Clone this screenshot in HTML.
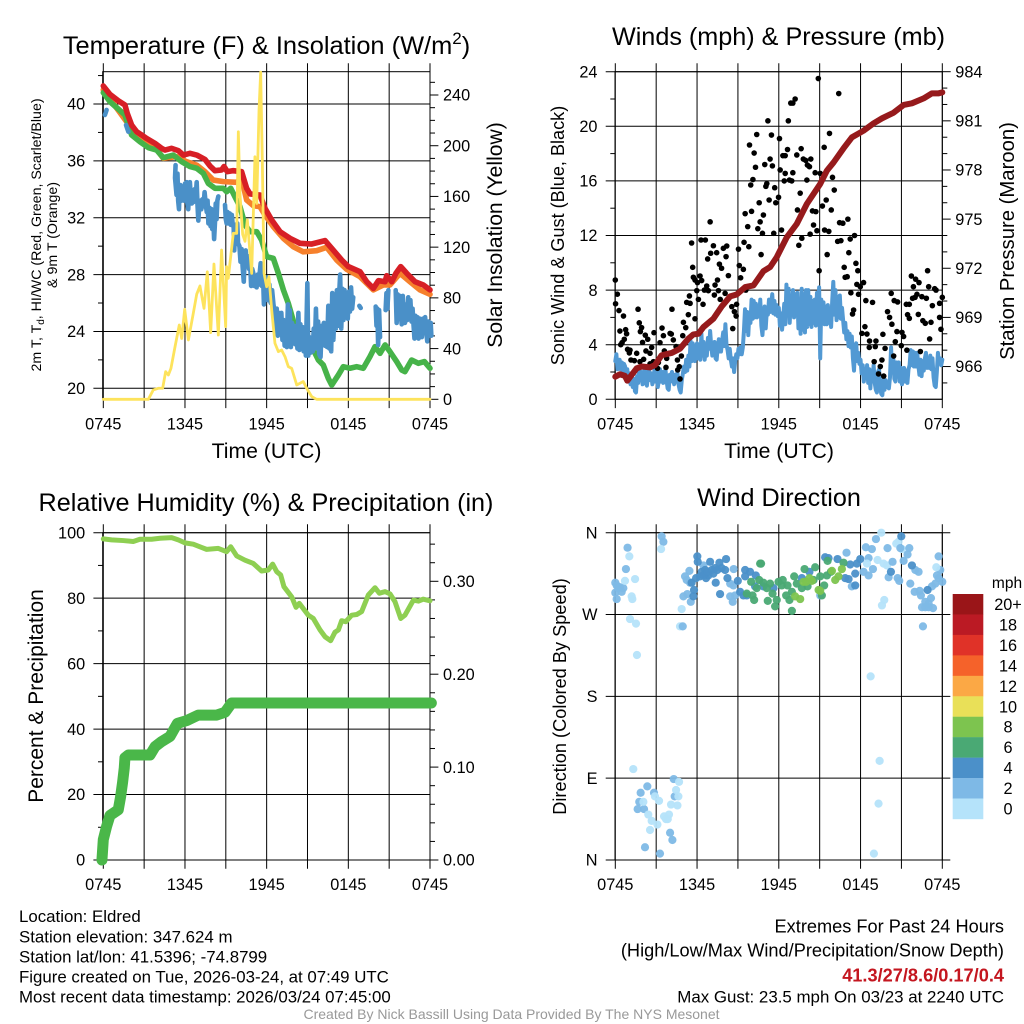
<!DOCTYPE html>
<html lang="en">
<head>
<meta charset="utf-8">
<title>Eldred Mesonet Meteogram</title>
<style>
html,body{margin:0;padding:0;background:#fff;width:1024px;height:1024px;overflow:hidden}
svg{display:block;font-family:"Liberation Sans",sans-serif;fill:#000}
</style>
</head>
<body>
<svg id="chart" xmlns="http://www.w3.org/2000/svg" width="1024" height="1024" viewBox="0 0 1024 1024">
  <rect x="0" y="0" width="1024" height="1024" fill="#fff"/>
  <g id="layer"></g>
  <text x="266.5" y="54" font-size="25.4" text-anchor="middle">Temperature (F) &amp; Insolation (W/m<tspan dy="-10" font-size="17">2</tspan><tspan dy="10">)</tspan></text>
  <text x="778.5" y="45" font-size="25.2" text-anchor="middle">Winds (mph) &amp; Pressure (mb)</text>
  <text x="266" y="511" font-size="25.2" text-anchor="middle">Relative Humidity (%) &amp; Precipitation (in)</text>
  <text x="779" y="506" font-size="25.2" text-anchor="middle">Wind Direction</text>
  <text x="266.5" y="458" font-size="21.2" text-anchor="middle">Time (UTC)</text>
  <text x="779" y="458" font-size="21.2" text-anchor="middle">Time (UTC)</text>
  <text transform="translate(41,235) rotate(-90)" font-size="14.2" text-anchor="middle">2m T, T<tspan dy="3" font-size="10">d</tspan><tspan dy="-3">, HI/WC (Red, Green, Scarlet/Blue)</tspan></text>
  <text transform="translate(57,235) rotate(-90)" font-size="14.2" text-anchor="middle">&amp; 9m T (Orange)</text>
  <text transform="translate(502,235) rotate(-90)" font-size="21.1" text-anchor="middle">Solar Insolation (Yellow)</text>
  <text transform="translate(564,235.5) rotate(-90)" font-size="18.1" text-anchor="middle">Sonic Wind &amp; Gust (Blue, Black)</text>
  <text transform="translate(1014,241) rotate(-90)" font-size="20.3" text-anchor="middle">Station Pressure (Maroon)</text>
  <text transform="translate(43,696) rotate(-90)" font-size="21" text-anchor="middle">Percent &amp; Precipitation</text>
  <text transform="translate(566,696.5) rotate(-90)" font-size="18.2" text-anchor="middle">Direction (Colored By Speed)</text>
  <text x="1007" y="588" font-size="15.5" text-anchor="middle">mph</text>
  <g font-size="16.85">
    <text x="19" y="922">Location: Eldred</text>
    <text x="19" y="942.5">Station elevation: 347.624 m</text>
    <text x="19" y="962.3">Station lat/lon: 41.5396; -74.8799</text>
    <text x="19" y="982.3">Figure created on Tue, 2026-03-24, at 07:49 UTC</text>
    <text x="19" y="1002.3">Most recent data timestamp: 2026/03/24 07:45:00</text>
  </g>
  <g text-anchor="end">
    <text x="1004" y="932.7" font-size="18.2">Extremes For Past 24 Hours</text>
    <text x="1004" y="956.7" font-size="18.2">(High/Low/Max Wind/Precipitation/Snow Depth)</text>
    <text x="1004" y="981.7" font-size="18.2" font-weight="bold" fill="#c4161f">41.3/27/8.6/0.17/0.4</text>
    <text x="1004" y="1002.3" font-size="16.9">Max Gust: 23.5 mph On 03/23 at 2240 UTC</text>
  </g>
  <text x="511.5" y="1019" font-size="14" text-anchor="middle" fill="#999">Created By Nick Bassill Using Data Provided By The NYS Mesonet</text>
</svg>
<script>
/* ---- chart data (hours since 0745 UTC) ---- */
const timeTickLabels = ['0745', '1345', '1945', '0145', '0745'];
const tempTicks = [20, 24, 28, 32, 36, 40];
const solarTicks = [0, 40, 80, 120, 160, 200, 240];
const windTicks = [0, 4, 8, 12, 16, 20, 24];
const pressureTicks = [966, 969, 972, 975, 978, 981, 984];
const rhTicks = [0, 20, 40, 60, 80, 100];
const precipTicks = ['0.00', '0.10', '0.20', '0.30'];
const dirTickLabels = ['N', 'E', 'S', 'W', 'N'];

const redHours = [0,.49,1.1,1.59,1.76,2.08,2.45,2.82,3.18,3.8,4.29,4.53,5.02,5.51,5.88,6.37,6.86,7.47,7.84,8.2,8.69,8.87,9.11,9.55,10.16,10.53,10.78,11.51,11.88,12.37,12.98,13.72,14.45,15.31,16.29,16.78,17.51,18,18.86,19.35,19.84,20.21,20.7,20.82,21.19,21.5,21.85,22.29,22.9,23.51,24];
const redTemp = [41.27,40.68,40.23,39.93,39.34,38.52,38.05,37.82,37.58,37.23,36.88,36.76,36.88,36.72,36.41,36.53,36.41,36.1,35.64,35.31,35.36,35.6,35.24,35.31,35.24,34.07,33.67,33.6,32.66,31.84,31.02,30.55,30.2,30.15,30.39,29.85,29.03,28.56,28.2,27.5,27.03,27.57,27.5,27.92,27.5,28.09,28.56,28.09,27.5,27.27,26.92];

const orangeHours = [0,2.69,3.92,4.41,5.39,6.12,6.86,7.47,8.08,8.82,9.8,10.16,10.53,11.02,11.51,11.88,12.49,13.23,13.96,14.69,15.67,16.41,17.14,17.88,18.86,19.84,20.57,21.06,21.8,22.53,23.27,24];
const orangeTemp = [41,37.47,36.81,36.18,36.3,35.94,35.7,35.24,34.65,34.54,34.49,34.77,33.25,32.85,32.78,32.19,31.37,30.55,29.96,29.6,29.68,29.92,29.03,28.37,27.85,26.92,27.27,27.27,28.09,27.5,26.92,26.61];

const greenHours = [0,.49,1.1,1.59,2.08,2.69,3.31,3.92,4.41,5.14,5.76,6.37,6.86,7.35,7.71,8.2,8.82,9.06,9.36,9.67,10.04,10.41,10.78,11.27,11.63,12,12.49,12.86,13.23,13.59,14.01,14.69,15.38,15.8,16.16,16.53,16.78,17.27,17.63,18.12,18.61,19.1,19.59,19.96,20.33,20.7,21.06,21.55,21.92,22.16,22.65,23.14,23.59,24];
const greenTemp = [40.8,40.16,39.65,39.23,37.82,37.35,36.93,36.76,36.22,36.41,35.94,35.6,35.48,35.12,34.42,34.07,34.07,33.83,34.07,33.48,32.78,31.49,31.02,31.02,30.43,29.26,29.14,28.09,26.92,25.98,24.57,23.52,22.81,21.99,21.64,20.7,20.23,20.94,21.52,21.41,21.52,21.41,22.23,22.93,22.46,23.05,22.58,21.88,21.29,21.17,21.99,21.76,21.88,21.41];

const dewHours = [.12,.24,null,1.67,1.84,null,
5.31,5.27,5.38,5.45,5.5,5.56,5.6,5.66,5.72,5.8,5.86,5.93,6,6.06,6.12,6.18,6.24,6.3,6.36,6.42,6.5,6.56,6.62,6.7,6.78,6.86,6.92,6.98,7.04,7.12,7.2,7.28,7.36,7.44,7.52,7.6,7.66,7.72,7.8,7.88,7.94,8,8.06,8.14,8.2,8.26,8.32,8.38,8.45,null,
8.94,9,9.06,9.12,9.2,9.28,9.36,9.44,9.5,9.58,9.62,9.7,9.78,9.84,9.9,10,10.08,10.16,10.24,10.32,10.38,10.46,10.54,10.62,10.7,10.78,10.86,10.94,11.02,11.1,11.18,11.26,11.34,11.42,11.5,11.56,11.64,11.72,11.8,11.88,11.96,12.02,12.1,12.2,12.3,12.4,12.5,12.58,12.66,12.74,12.82,12.9,13,13.08,13.16,13.24,13.32,13.4,13.48,13.56,13.62,13.7,13.78,13.86,13.94,14.02,14.1,14.18,14.26,14.33,14.4,14.48,14.56,14.64,14.72,14.8,14.88,14.99,15.06,15.14,15.22,15.3,15.38,15.46,15.54,15.62,15.7,15.78,15.86,15.96,16.04,16.12,16.2,16.28,16.36,16.44,16.53,16.6,16.68,16.74,16.82,16.9,17,17.08,17.16,17.24,17.32,17.4,17.48,17.56,17.64,17.72,17.8,17.88,17.96,18.04,18.12,18.2,18.28,18.36,null,
18.81,18.91,null,
20.01,20.07,20.13,20.19,20.26,20.33,null,
20.74,20.8,20.87,20.94,null,
21.48,21.55,21.62,21.7,21.78,21.86,21.92,22,22.08,22.16,22.24,22.32,22.4,22.48,22.56,22.64,22.72,22.78,22.86,22.92,23,23.08,23.16,23.24,23.32,23.4,23.48,23.56,23.64,23.72,23.8,23.88,23.96,24.05,24.1];
const dewTemp = [39.23,39.58,null,38.52,38.05,null,
35.7,34.8,33.6,35.1,33.2,32.6,34,34.3,33.2,34.2,33.3,33.2,34.4,33.4,34.5,33,32.6,33.9,34.5,33.6,33,33.9,33.1,34,33.3,34.5,32.9,31.8,32.7,33.2,32.6,33.3,32.8,33.8,33,32.4,33.2,31.6,32.7,31.4,32.6,31.2,32.5,30.5,31.6,33,31.9,33.2,33.5,null,
32.9,31.9,31.6,32.4,31.6,32.3,31.5,32.2,31.6,31.3,29.7,31.5,30.3,31.6,30.2,30,28.9,29.8,28.5,27.5,29.1,29.7,28.6,29.3,28.4,29,27.2,28.4,28.1,27.2,27.9,27.1,28,27.3,28.2,28.8,27.2,28.4,25.9,27.4,26.4,27.8,26.2,27.3,26,26.9,25.9,25.4,24,25.6,23.7,25.3,24.1,25.3,23.4,24.8,23,24.4,22.9,25.9,23.2,25.5,22.9,24.6,23.3,24.4,23.1,24.3,22.8,25.3,22.7,24.5,22.9,24.3,22.6,23.9,22.3,27.4,22.3,23.6,22.5,23.5,22.6,24.2,22.8,25.6,22.9,24.7,22.4,22.2,24.4,23.2,24.6,23,24.2,22.9,25.8,22.8,25,22.6,26.7,23.4,25.9,24.2,26.9,24.4,26.5,28,24.2,27,24.8,26.9,25,26.4,24.9,26.8,25.4,27.1,25.6,26.4,null,
25.8,25.65,null,
25.75,24.4,25.6,23.05,25.5,23.6,null,
25.5,26.7,25.6,26.9,null,
26.9,24.6,26.6,24.9,26.5,25.1,24.5,26.5,25,24.6,25.9,24.8,26.4,25,26.2,24.7,25.6,24.6,23.5,25.1,24.5,25,23.5,24.9,24,23.6,24.9,23.9,25,24,23.3,24.7,23.7,24.6,23.7];

const solarHours = [0,3.31,3.67,4.04,4.36,4.58,4.78,4.97,5.27,5.58,5.76,5.98,6.25,6.61,6.86,7.1,7.4,7.64,7.89,8.13,8.45,8.69,8.99,9.06,9.18,9.55,9.8,9.92,10.04,10.24,10.41,10.58,10.9,11.14,11.27,11.44,11.56,11.68,11.81,12,12.17,12.37,12.61,12.86,13.1,13.35,13.59,13.84,14.21,14.69,14.94,15.31,15.67,24];
const solarValues = [0,0,7.4,8.7,8.7,21.8,19.2,24.4,41.5,58.6,48,71,46.8,67.8,82.8,89.4,71.7,100.6,52.6,106.7,50.7,117.7,57.3,104.6,95.4,130.9,130.9,211,162,130,124.6,141.6,99.3,191.3,154.5,228,258,188.7,99.3,88.8,96.7,70.4,44.2,37.6,38.9,33.6,25.8,24.4,11.3,14,8.7,2.1,0,0];

/* sonic wind: regular samples across the 24 h window */
const windSpeed = [2.8,3.3,2.2,2.5,2.9,2.2,2.7,2,2.6,2.4,1.6,2.2,1.3,1.9,1.1,1.8,.9,1.5,.6,.5,1.7,1.2,2.2,1.4,2,1.1,1.9,2.2,1.2,1,1.8,2.2,1.4,1.9,1.1,1.5,2.2,1.3,2.1,.9,1.4,2.2,1.3,2,1.2,1.8,2.2,1.4,.8,.7,1.8,1.3,2,1.5,1.1,1.8,1.3,2,1.1,.7,.5,1.4,1.9,2.4,2,2.9,2.1,3.2,2.4,4.3,2.8,4.1,3,2.8,3.9,4.1,3,3.9,2.9,4.8,3.2,4.2,2.9,3.8,3.2,4.5,3.7,5,3.9,3.2,3.5,4.2,3,2.9,3.9,4.4,3.5,3.5,4.3,4.9,3.9,5.5,4,3.6,3,3.7,2.9,2.4,3,2,2.8,3.3,3,3.7,3.3,3.8,3.3,3.8,5,6.6,5,6.4,4.7,6.3,5.6,7.3,5.9,7.2,6,7,6,6.6,6.1,7.3,5.4,4.7,5.9,6.8,5.2,6.5,6.2,7.3,6.4,7,7.7,6.3,7.2,6.2,6.9,6.1,6.7,5.4,6.3,5.1,6,7,5.5,8.4,6.4,8.1,5.6,7.2,6.2,8,6,7.7,6.4,7.8,5.2,6.8,4.8,8.1,5.1,7.7,4.9,8,5.3,8,5.5,7.5,5.3,7.2,5.6,7.3,5.4,7.8,5.9,8.2,3,7.3,5.6,7.1,5.5,6.8,5.5,6.9,5.6,6.6,5.3,7.2,8.6,6.2,8,5.8,7.5,6,7.6,5.9,6.7,5.8,4.9,5.6,4.4,5,3.9,4.8,3.8,4.6,3,2.1,3.8,4.1,2.8,3.4,2.6,2.9,1.9,2.5,1.3,2.2,1.6,2.5,1.2,2.2,.8,2.1,1.4,2.5,1.2,.7,.5,2,2.2,.9,.4,.3,1.4,.7,1.4,.9,1.2,.8,1.6,3.8,2,3.1,1.5,1.3,2.7,1.8,2.7,1.3,2.3,1.1,2,2.3,1.3,2.1,1.2,2.2,2.5,3.6,2.5,3.5,2.4,3.4,2.4,3.4,2.5,1.8,2.9,1.7,2.8,2.1,3,3.4,2.3,3,2.3,3.2,2.2,3,1.6,1,.9,2,3.4,2.6,3,2.5,2.9];
const windHours = windSpeed.map((v, i) => i * 24 / (windSpeed.length - 1));

const gustHours = [0,.15,.02,.27,.6,.34,.76,.83,.66,.5,.4,.9,1.08,1.03,1.57,1.15,1.4,1.67,1.76,1.93,1.84,2.2,2.38,2,2.25,2.67,2.55,2.08,2.84,3.43,3.53,3.28,3.6,3.94,4.02,4.11,4.26,4.16,4.46,4.56,4.7,4.58,4.75,4.85,4.95,5.17,5,5.36,5.85,5.24,5.49,5.44,5.68,5.6,5.73,5.85,6.03,5.98,6.1,6.44,6.29,6.61,6.22,6.34,6.54,6.71,6.83,6.96,7.2,7,7.44,6.78,7.64,7.8,8.13,7.93,8.18,8.3,7.5,7.32,7.57,7.27,7.7,8.06,8.55,8.9,8.74,8.87,8.62,9.04,9.1,9.4,9.2,9.45,9.8,9.58,9.53,9.72,10,9.85,10.19,10.29,10.1,9.94,10.38,11.2,11.46,12.05,10.56,10.46,10.63,10.87,10.8,10.7,11.63,12.2,10.97,11.36,11.53,11.12,11.05,11.7,11.29,11.78,11.98,12.1,12.47,12.4,13.03,12.78,12.95,12.3,12.47,12.64,12.7,12.88,13.03,13.2,13.32,13.64,13.8,13.98,14.35,14.1,14.25,14.67,14.06,13.57,13.37,14.47,14.72,15.2,15.48,15.85,14.55,14.8,14.3,13.69,13.47,15.36,15.67,14.9,16.4,15.33,15.72,15.04,15.94,16.07,14.96,15.55,16.46,16.7,17.07,16.32,16.56,17.24,17.56,17.14,17.66,16.8,17.8,16.87,17.02,17.73,18.22,17.29,17.85,17.98,18.39,18.88,17.49,17.41,18.32,18.1,18.47,18.66,19.13,18.64,19.08,19.64,20.13,20.3,19.98,20.25,20.47,20.72,20.67,21.04,21.16,20.55,20.99,21.4,21.36,21.58,21.45,21.58,21.73,22.04,22.29,21.88,22,21.82,22.14,22.5,22.83,22.24,22.57,22.75,23.17,23,22.92,23.44,23.54,23.27,23.8,24,23.8,23.9,23.07,22.39,19.57,19,19.45,19.32,19.7,19.8,20.43,2.8,3.16,3.1,3.72,3.77,2.55,1.81];
const gustSpeed = [8.74,7.7,7,6.5,6.1,5,5.1,4.8,4.4,4.15,4,3.66,3.6,3.4,3.37,2.88,2.83,6.6,5.6,5.25,4.96,4.7,4.4,4.17,3.54,3.8,3.37,2.93,4.88,5.22,4.66,4.15,3.54,3.37,4.83,4.78,4.35,6.6,3.86,2.88,2.39,2.15,1.49,3.17,4.66,5.25,5.64,6.2,5.9,7.1,7.03,7.57,9.67,11.45,8.94,8.74,8.55,7.96,7.32,6.96,11.67,11.67,9.03,8.7,8,8.3,7.96,13,11.25,10.7,10.74,10.28,9.9,9.6,10.45,11.06,11.23,9.06,8.74,8.37,7.96,7.64,7.32,7.76,6.79,6.96,6.42,6.1,5.18,11,9.8,9.52,8.9,11.5,11.18,8,13.6,12.65,13.77,18.63,18.04,17,16.1,15.7,19.4,20.4,19.36,19.1,14.4,12.5,13,13.5,12.16,10.6,12.16,12.4,17.2,17.6,17.1,15.8,15.6,15.5,14.6,14.4,14.8,16.8,16.55,16,16.6,16.06,16,17.85,17.85,18.3,20.4,21.7,21.7,22,17.9,18.36,17.6,17.5,17.6,17.16,17.04,16.6,16.06,15.1,13.87,13.8,13.75,14.16,14.6,13.87,12.77,12.35,12.1,11.8,11.28,12.4,12.3,23.5,22.4,18.46,19.48,16.55,16.26,15.33,9.42,10.6,12.94,12.9,13.2,11.57,11.62,11.74,12,10.74,9.96,9.67,9.42,8.94,8.98,8.42,8.55,7.8,7.69,8.25,7.23,7.1,6.54,6.25,5.32,4.83,4.78,4.27,4.27,3.8,3.86,4.76,6,5.5,6.42,7.76,7.23,7.13,4.96,4.9,4.6,4.22,3.93,3.6,6.96,6.96,6.2,5.93,9.03,8.8,8.55,8.25,7.47,7.4,7.69,7.52,7.4,6.22,5.76,5.57,5.64,8.25,9.42,8.1,8,6.86,7.03,7.47,6,5.13,4.42,3.5,2.88,2.76,2.4,1.86,1.7,3.73,3.17,2.76,2.69,2.27,2.34,3,2.6,2.76];

const pressureHours = [0,.34,.71,.88,1.2,1.57,1.93,2.55,2.91,3.4,4.14,4.75,5.36,5.73,6.1,6.47,7.2,7.81,8.43,8.91,9.53,10.14,10.87,11.36,11.85,12.59,13.32,14.06,15.04,15.53,16.02,16.75,17.36,18.22,18.96,19.57,20.43,21.16,21.77,22.63,23.24,23.73,24];
const pressureMb = [965.38,965.53,965.43,965.14,965.49,965.89,966,965.95,966.09,966.69,966.83,967.09,967.7,967.96,968,968.41,968.92,969.67,970.28,970.4,970.85,970.95,971.82,972.07,972.68,973.9,974.71,975.93,977.15,977.96,978.46,979.32,979.99,980.4,980.85,981.15,981.5,981.97,982.07,982.37,982.68,982.68,982.74];

const rhHours = [0,.61,1.47,2.2,2.69,3.55,4.16,5.02,5.51,6,6.61,7.22,7.59,8.45,9.06,9.36,9.8,10.41,11.02,11.63,12.12,12.44,12.74,13.03,13.27,13.84,14.16,14.4,15.06,15.43,15.92,16.29,16.7,17.02,17.27,17.51,17.81,18.25,18.61,18.98,19.47,19.96,20.28,20.7,21.06,21.43,21.85,22.16,22.78,23.14,23.51,24];
const rhPercent = [98.1,97.8,97.6,97.3,98,98,98.3,98.5,97.8,96.9,96.5,95.5,94.9,95.2,94.2,95.7,92.9,91.6,90.6,88.3,88.6,90.4,88.1,87.1,83.5,80.4,77.2,78.4,74.8,73.8,70.3,68.2,67,69.6,70.3,73.1,72.8,74.8,75,75.9,81,83.2,81.5,82,81.3,78.9,73.8,74.8,79.4,79.1,79.7,79.2];

const precipHours = [-.1,0,.24,.49,1.1,1.27,1.42,1.54,1.59,1.84,3.43,3.8,4.29,4.9,5.44,6.12,6.98,8.33,8.94,9.43,24.1];
const precipInches = [0,.022,.036,.048,.054,.068,.084,.099,.11,.113,.113,.122,.1275,.133,.147,.15,.156,.156,.159,.169,.169];

const dirHours = [0,0,.1,.34,.47,.59,.1,.22,.71,1.45,1.2,1.25,1.03,.9,.78,1.08,1.52,1.59,3.4,3.53,3.36,5.44,5.12,5.24,5.49,5,5.29,5.54,4.87,4.75,4.95,6.47,8.69,8.43,8.67,8.43,8.62,8.79,18.39,18.83,19.13,18.59,18.22,18.59,18.91,18.47,19.25,19.69,19.94,19.74,19.57,19.52,20.62,20.79,21.04,19.98,20.35,20.06,20.72,20.84,20.92,21.16,21.58,21.45,22.02,22.26,21.65,21.97,22.34,22.43,22.51,22.75,23,23.32,23.17,22.75,23,23.24,23.49,23.73,23.85,24,23.73,23.61,23.56,18.74,19.4,19.32,18.98,1.32,2.35,1.86,1.76,1.64,2.11,2.84,2.18,3.28,4.02,4.19,4.29,4.36,4.68,4.46,4.63,4.56,4.09,2.06,2.91,3.21,2.42,2.67,3.09,2.55,3.58,3.94,3.72,3.85,16.97,17.36,15.04,22.58,6.02,6.05,5.6,5.78,5.73,5.93,6.22,6.34,6.59,6.66,6.83,6.96,7.08,7.2,7.37,7.49,7.64,7.81,8.06,8.13,7.69,6.47,6.76,7.32,8.99,9.16,9.4,9.53,9.65,10.87,11.61,10.26,14.25,13.69,15.4,15.65,16.31,17.24,17.73,17.98,16.87,17.12,17.61,17.61,20.99,20.23,21.77,22.92,8.23,9.53,9.89,10.31,9.97,10.63,10.7,10.56,10.87,11.36,11.12,10.38,9.65,10.07,10.19,11.19,11.73,11.85,11.98,12.29,12.22,12.96,12.78,12.96,13.89,14.67,14.11,13.69,13.32,14.55,15.33,15.58,15.53,15.04,16.75,15.82,15.16,11.54,12.64,12.54,13.13,13.2,13.57,13.81,14.01,14.25,14.43,14.92,15.04,15.9,16.14,16.38,16.63];
const dirDegrees = [305,294,302,300,295,299,287,299,307,309,290,287,334,343.5,320,265,260,225.5,356,350,342,318,312,308,305,290,292.5,284,276,257,257,324,320,304,302,290,284,291,344,342,353,332,317,313,320,326,330,326,324,286,280,360,348,350,342,343,328,311,310,307,343,329,343,336,319,317,304,295,296,291,278,278,278,277,288,284,282,301,304,310,319,306,334,313,322,202,109,62,7,100,81,74,64,56,56,74,14,7,30,22,89,70,86,77,70,60,61,64,70,65,50,43,39,33,48,50,45,45,338,301,291,257,334,328,305,297,290,310,312,317,319,310,313,328,319,315,305,319,327,321,319,331,292.5,313,317,321,307,295,291,312,291,301,299,301,317,310,333,332,331,325,326,331,310,309,315,302,356,317,324,297,310,319,317,313,306,326,326,308,305,304,299,299,293,291,286,285,279,286,306,308,302,274,286,295,320,322,301,299,304,308,302,329,313,312,327,317,291,293,302,291,312,290,287,306,306,310,307,297,296,318,308,312,320];
const dirSpeed = [3,3,3,3,3,3,3,3,1,1,1,1,1,3,3,1,1,1,3,3,1,3,3,3,3,3,3,3,1,1,3,3,3,3,3,3,3,3,3,3,3,3,3,3,3,1,1,1,1,1,1,1,1,1,1,3,3,3,3,3,3,3,3,3,3,3,3,3,3,3,3,3,3,3,3,3,3,3,3,3,3,3,3,3,1,1,1,1,1,1,3,3,3,3,3,3,3,3,3,3,3,3,1,1,1,1,1,1,1,1,1,1,1,1,1,1,1,1,3,3,3,3,5,5,5,5,5,5,5,5,5,5,5,5,5,5,5,5,5,5,5,5,5,5,5,5,5,5,5,5,5,5,5,5,5,5,5,5,5,5,5,5,5,5,5,5,5,5,5,5,5,5,5,5,7,7,7,7,7,7,7,7,7,7,7,7,7,7,7,7,7,7,7,7,7,7,7,7,7,7,7,7,7,7,7,7,7,7,7,7,7,9,9,9,9,9,9,9,9,9,9,9,9,9,9,9,9];

const legendLabels = ['20+','18','16','14','12','10','8','6','4','2','0'];
const legendColors = ['#9a1518','#bb1a24','#e03228','#f5622a','#fba845','#e9e058','#7dc44f','#4aa974','#4b90c9','#7eb9e6','#b5e3fa'];

/* ---- helpers ---- */
const NS = 'http://www.w3.org/2000/svg';
const layer = document.getElementById('layer');
function mk(tag, attrs, parent, txt) {
  const el = document.createElementNS(NS, tag);
  for (const k in attrs) el.setAttribute(k, attrs[k]);
  if (txt !== undefined) el.textContent = txt;
  parent.appendChild(el);
  return el;
}
function scale(d0, d1, r0, r1) { return v => r0 + (v - d0) * (r1 - r0) / (d1 - d0); }

function drawLine(parent, hours, values, sx, sy, color, width, name) {
  let d = '', pen = false;
  hours.forEach((h, i) => {
    if (h === null || values[i] === null || values[i] === undefined) { pen = false; return; }
    d += (pen ? 'L' : 'M') + sx(h).toFixed(2) + ' ' + sy(values[i]).toFixed(2);
    pen = true;
  });
  const el = mk('path', {d: d, fill: 'none', stroke: color, 'stroke-width': width, 'stroke-linejoin': 'round', 'stroke-linecap': 'round'}, parent);
  
  
  return el;
}

/* Frame, grid and tick marks of one panel */
function drawAxes(p) {
  const g = mk('g', {}, layer);
  
  
  const sx = scale(0, 24, p.gx0, p.x1);
  const ln = {stroke: '#000', 'stroke-width': 1};
  for (let i = 0; i <= 8; i++) {
    const x = sx(i * 3);
    const v = mk('line', Object.assign({x1: x, x2: x, y1: p.y0 - 8.4, y2: p.y1 + 8.8}, ln), g);
    
    
  }
  timeTickLabels.forEach((lab, i) => {
    const t = mk('text', {x: sx(i * 6), y: p.y1 + 30, 'font-size': 16.3, 'text-anchor': 'middle'}, g, lab);
    
    
  });
  const frame = mk('rect', {x: p.x0, y: p.y0, width: p.x1 - p.x0, height: p.y1 - p.y0, fill: 'none', stroke: '#000', 'stroke-width': 1}, g);
  
  
  p.leftMajor.forEach(tk => {
    const y = tk.y;
    const h = mk('line', Object.assign({x1: p.x0 - 9.3, x2: p.x1 + (p.gridOver || 0), y1: y, y2: y}, ln), g);
    
    
    const t = mk('text', {x: p.x0 - 17.5, y: y + 5.7, 'font-size': 16.3, 'text-anchor': 'end'}, g, tk.label);
    
    
  });
  (p.leftMinor || []).forEach(y => {
    const m = mk('line', Object.assign({x1: p.x0 - 4.7, x2: p.x0, y1: y, y2: y}, ln), g);
    
    
  });
  (p.rightMajor || []).forEach(tk => {
    const y = tk.y;
    const m = mk('line', Object.assign({x1: p.x1, x2: p.x1 + 8.4, y1: y, y2: y}, ln), g);
    
    
    const t = mk('text', {x: p.x1 + 13, y: y + 5.7, 'font-size': 16.3}, g, tk.label);
    
    
  });
  (p.rightMinor || []).forEach(y => {
    const m = mk('line', Object.assign({x1: p.x1, x2: p.x1 + 5, y1: y, y2: y}, ln), g);
    
    
  });
  return sx;
}
function range(a, b, step) { const r = []; for (let v = a; v <= b + 1e-9; v += step) r.push(v); return r; }

/* ---- Panel 1: temperature & insolation ---- */
(function () {
  const y0 = 71.7, y1 = 399.3;
  const sT = scale(40, 20, 104, 388.3);
  const sS = scale(0, 240, 399.3, 95);
  const sx = drawAxes({
    name: 'temperature', x0: 102.7, gx0: 103.3, x1: 430, y0, y1,
    leftMajor: tempTicks.map(v => ({y: sT(v), label: String(v)})),
    leftMinor: range(22, 42, 4).map(sT),
    rightMajor: solarTicks.map(v => ({y: sS(v), label: String(v)})),
    rightMinor: range(10, 250, 10).filter(v => v % 40 !== 0).map(sS)
  });
  const g = mk('g', {}, layer);
  
  
  drawLine(g, orangeHours, orangeTemp, sx, sT, '#f6802c', 5.6, 'temperature-9m-line');
  drawLine(g, greenHours, greenTemp, sx, sT, '#46b349', 5.6, 'heat-index-line');
  drawLine(g, redHours, redTemp, sx, sT, '#d71f26', 5.6, 'temperature-2m-line');
  drawLine(g, dewHours, dewTemp, sx, sT, '#4a90c8', 4.6, 'dewpoint-line');
  drawLine(g, solarHours, solarValues, sx, sS, '#fde35c', 2.8, 'solar-insolation-line');
})();

/* ---- Panel 2: winds & pressure ---- */
(function () {
  const y0 = 71.7, y1 = 399.3;
  const sW = scale(0, 24, 399.3, 71.7);
  const sP = scale(964, 984, 399.3, 71.7);
  const sx = drawAxes({
    name: 'winds', x0: 615, gx0: 615.3, x1: 942.3, y0, y1,
    leftMajor: windTicks.map(v => ({y: sW(v), label: String(v)})),
    leftMinor: range(2, 22, 4).map(sW),
    rightMajor: pressureTicks.map(v => ({y: sP(v), label: String(v)})),
    rightMinor: range(965, 983, 1).filter(v => (v - 966) % 3 !== 0).map(sP)
  });
  const g = mk('g', {}, layer);
  
  
  drawLine(g, windHours, windSpeed, sx, sW, '#5299d3', 4, 'sonic-wind-line');
  gustHours.forEach((h, i) => {
    const c = mk('circle', {cx: sx(h), cy: sW(gustSpeed[i]), r: 2.8, fill: '#000'}, g);
    
    
  });
  drawLine(g, pressureHours, pressureMb, sx, sP, '#961a1c', 6, 'station-pressure-line');
})();

/* ---- Panel 3: humidity & precipitation ---- */
(function () {
  const y0 = 532.7, y1 = 860;
  const sR = scale(0, 100, 860, 532.7);
  const sI = scale(0, 0.3, 860, 581.3);
  const sx = drawAxes({
    name: 'humidity', x0: 102.7, gx0: 103.3, x1: 430, y0, y1,
    leftMajor: rhTicks.map(v => ({y: sR(v), label: String(v)})),
    leftMinor: range(10, 90, 20).map(sR),
    rightMajor: precipTicks.map(v => ({y: sI(Number(v)), label: v})),
    rightMinor: range(0.02, 0.34, 0.02).filter(v => Math.round(v * 100) % 10 !== 0).map(sI)
  });
  const g = mk('g', {}, layer);
  
  
  drawLine(g, rhHours, rhPercent, sx, sR, '#8ecf52', 5, 'relative-humidity-line');
  drawLine(g, precipHours, precipInches, sx, sI, '#4ab749', 11, 'precipitation-line');
})();

/* ---- Panel 4: wind direction ---- */
(function () {
  const y0 = 532.7, y1 = 860;
  const sD = scale(0, 360, 860, 532.7);
  const sx = drawAxes({
    name: 'direction', x0: 615, gx0: 615.3, x1: 942.3, y0, y1, gridOver: 8,
    leftMajor: dirTickLabels.map((lab, i) => ({y: sD(i * 90), label: lab}))
  });
  const g = mk('g', {}, layer);
  
  
  dirHours.forEach((h, i) => {
    const bin = Math.min(10, Math.floor(dirSpeed[i] / 2));
    const c = mk('circle', {cx: sx(h), cy: sD(dirDegrees[i]), r: 4.1, fill: legendColors[10 - bin], 'fill-opacity': 0.95}, g);
    
    
  });
  /* colour legend */
  const lg = mk('g', {}, layer);
  
  
  const bh = (819 - 594) / legendColors.length;
  legendColors.forEach((col, i) => {
    const r = mk('rect', {x: 952.7, y: 594 + i * bh, width: 30.6, height: bh + 0.2, fill: col}, lg);
    
    
    const t = mk('text', {x: 1008, y: 594 + i * bh + 16, 'font-size': 16.3, 'text-anchor': 'middle'}, lg, legendLabels[i]);
    
    
  });
})();
</script>
</body>
</html>
